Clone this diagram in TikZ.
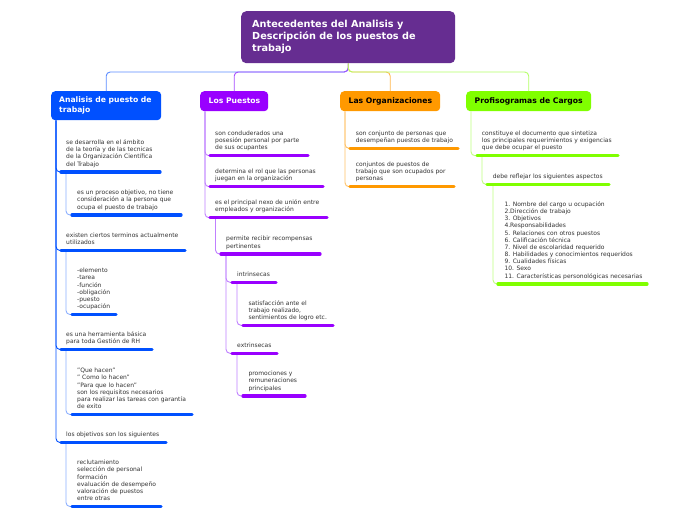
\documentclass[tikz,border=0pt]{standalone}
\usepackage{fontspec}
\setmainfont{DejaVu Sans}
\newcommand{\ml}[1]{\begin{tabular}[t]{@{}l@{}}#1\end{tabular}}
\definecolor{rootc}{HTML}{662D91}
\definecolor{bluec}{HTML}{0050FF}
\definecolor{purc}{HTML}{9900FF}
\definecolor{orac}{HTML}{FF9900}
\definecolor{grec}{HTML}{80FF00}
\definecolor{txtc}{HTML}{333333}
\definecolor{bluecon}{HTML}{5C8DFF}
\definecolor{purcon}{HTML}{A64DFF}
\definecolor{oracon}{HTML}{FFB84D}
\definecolor{grecon}{HTML}{B3FF66}
\definecolor{bluel}{HTML}{8CB0FF}
\definecolor{purl}{HTML}{C080FF}
\definecolor{oral}{HTML}{FFC266}
\definecolor{grel}{HTML}{BFFF80}
\begin{document}
\begin{tikzpicture}[x=1pt,y=-1pt,
  txt/.style={anchor=base west, inner sep=0pt, text=txtc, font=\fontsize{6.0}{7.15}\selectfont},
  bar/.style={line width=3.3pt, line cap=round},
  conn/.style={line width=0.9pt, rounded corners=4pt},
  box/.style={anchor=north west, rounded corners=4pt, inner sep=0pt, font=\fontsize{7.65}{10}\bfseries\selectfont},
]
\useasboundingbox[fill=white] (0,0) rectangle (696,520);

% root
\node[box, rounded corners=5pt, fill=rootc, text=white, minimum width=214pt, minimum height=52pt,
  font=\fontsize{9.7}{12}\bfseries\selectfont] (root) at (241,11)
  {\makebox[192pt][l]{\raisebox{-1pt}{\ml{Antecedentes del Analisis y\\Descripción de los puestos de\\trabajo}}}};

% branch boxes
\node[box, fill=bluec, text=white, minimum width=110pt, minimum height=29pt] (ana) at (51,91)
  {\makebox[94pt][l]{\ml{Analisis de puesto de\\trabajo}}};
\node[box, fill=purc, text=white, minimum width=68pt, minimum height=20pt] (pue) at (200,91)
  {\makebox[51pt][l]{\ml{Los Puestos}}};
\node[box, fill=orac, text=black, minimum width=100pt, minimum height=20pt] (org) at (340,91)
  {\makebox[83pt][l]{\ml{Las Organizaciones}}};
\node[box, fill=grec, text=black, minimum width=125pt, minimum height=20pt] (pro) at (466,91)
  {\makebox[108pt][l]{\ml{Profisogramas de Cargos}}};

% root connectors
\coordinate (hy) at (0,72);
\draw[conn, bluecon] (root.south) |- (ana.north |- hy) -- (ana.north);
\draw[conn, purcon] (root.south) |- (pue.north |- hy) -- (pue.north);
\draw[conn, oracon] (root.south) |- (org.north |- hy) -- (org.north);
\draw[conn, grecon] (root.south) |- (pro.north |- hy) -- (pro.north);

% ---------- Analisis (blue)
\node[txt] (b1) at (66,144.55) {\ml{se desarrolla en el ámbito\\de la teoría y de las tecnicas\\de la Organización Científica\\del Trabajo}};
\coordinate (b1s) at (61,172); \coordinate (b1e) at (160,172);
\node[txt] (b1a) at (77,194.7) {\ml{es un proceso objetivo, no tiene\\consideración a la persona que\\ocupa el puesto de trabajo}};
\coordinate (b1as) at (72,215); \coordinate (b1ae) at (181,215);
\node[txt] (b2) at (66,237.35) {\ml{existen ciertos terminos actualmente\\utilizados}};
\coordinate (b2s) at (61,250.5); \coordinate (b2e) at (185,250.5);
\node[txt] (b2a) at (77,272.75) {\ml{-elemento\\-tarea\\-función\\-obligación\\-puesto\\-ocupación}};
\coordinate (b2as) at (72,314.5); \coordinate (b2ae) at (116,314.5);
\node[txt] (b3) at (66,336.35) {\ml{es una herramienta básica\\para toda Gestión de RH}};
\coordinate (b3s) at (61,349.5); \coordinate (b3e) at (152,349.5);
\node[txt] (b3a) at (77,372.75) {\ml{"Que hacen"\\" Como lo hacen"\\"Para que lo hacen"\\son los requisitos necesarios\\para realizar las tareas con garantía\\de exito}};
\coordinate (b3as) at (72,414.5); \coordinate (b3ae) at (192,414.5);
\node[txt] (b4) at (66,436.5) {los objetivos son los siguientes};
\coordinate (b4s) at (61,442.5); \coordinate (b4e) at (166,442.5);
\node[txt] (b4a) at (77,464.75) {\ml{reclutamiento\\selección de personal\\formación\\evaluación de desempeño\\valoración de puestos\\entre otras}};
\coordinate (b4as) at (72,506.5); \coordinate (b4ae) at (161,506.5);

\foreach \c in {b1s,b2s,b3s,b4s}
  \draw[conn, bluec] ([xshift=5pt]ana.south west) |- (\c);
\draw[conn, bluel] ([xshift=5pt]b1s) |- (b1as);
\draw[conn, bluel] ([xshift=5pt]b2s) |- (b2as);
\draw[conn, bluel] ([xshift=5pt]b3s) |- (b3as);
\draw[conn, bluel] ([xshift=5pt]b4s) |- (b4as);
\foreach \s/\e in {b1s/b1e,b1as/b1ae,b2s/b2e,b2as/b2ae,b3s/b3e,b3as/b3ae,b4s/b4e,b4as/b4ae}
  \draw[bar, bluec] (\s) -- (\e);

% ---------- Los Puestos (purple)
\node[txt] (p1) at (215,135.4) {\ml{son conduderados una\\posesión personal por parte\\de sus ocupantes}};
\coordinate (p1s) at (210,155.7); \coordinate (p1e) at (308,155.7);
\node[txt] (p2) at (215,173.55) {\ml{determina el rol que las personas\\juegan en la organización}};
\coordinate (p2s) at (210,186.7); \coordinate (p2e) at (323,186.7);
\node[txt] (p3) at (215,204.55) {\ml{es el principal nexo de unión entre\\empleados y organización}};
\coordinate (p3s) at (210,217.7); \coordinate (p3e) at (327,217.7);
\node[txt] (p3a) at (226,240.85) {\ml{permite recibir recompensas\\pertinentes}};
\coordinate (p3as) at (221,254); \coordinate (p3ae) at (320,254);
\node[txt] (p3b) at (237,276.3) {intrinsecas};
\coordinate (p3bs) at (232,282.3); \coordinate (p3be) at (276,282.3);
\node[txt] (p3ba) at (248.3,305) {\ml{satisfacción ante el\\trabajo realizado,\\sentimientos de logro etc.}};
\coordinate (p3bas) at (243,325.3); \coordinate (p3bae) at (333,325.3);
\node[txt] (p3c) at (237,347.3) {extrinsecas};
\coordinate (p3cs) at (232,353.3); \coordinate (p3ce) at (277,353.3);
\node[txt] (p3ca) at (248.3,375.7) {\ml{promociones y\\remuneraciones\\principales}};
\coordinate (p3cas) at (243,396); \coordinate (p3cae) at (305,396);

\foreach \c in {p1s,p2s,p3s}
  \draw[conn, purl] ([xshift=5pt]pue.south west) |- (\c);
\draw[conn, purl] ([xshift=5.5pt]p3s) |- (p3as);
\draw[conn, purl] ([xshift=5pt]p3as) |- (p3bs);
\draw[conn, purl] ([xshift=5pt]p3as) |- (p3cs);
\draw[conn, purl] ([xshift=5pt]p3bs) |- (p3bas);
\draw[conn, purl] ([xshift=5pt]p3cs) |- (p3cas);
\foreach \s/\e in {p1s/p1e,p2s/p2e,p3s/p3e,p3as/p3ae,p3bs/p3be,p3bas/p3bae,p3cs/p3ce,p3cas/p3cae}
  \draw[bar, purc] (\s) -- (\e);

% ---------- Las Organizaciones (orange)
\node[txt] (o1) at (355.7,135.15) {\ml{son conjunto de personas que\\desempeñan puestos de trabajo}};
\coordinate (o1s) at (350,148.3); \coordinate (o1e) at (458,148.3);
\node[txt] (o2) at (355.7,166.4) {\ml{conjuntos de puestos de\\trabajo que son ocupados por\\personas}};
\coordinate (o2s) at (350,186.7); \coordinate (o2e) at (454,186.7);
\foreach \c in {o1s,o2s}
  \draw[conn, oral] ([xshift=5pt]org.south west) |- (\c);
\draw[bar, orac] (o1s) -- (o1e);
\draw[bar, orac] (o2s) -- (o2e);

% ---------- Profisogramas (green)
\node[txt] (g1) at (481.7,135.4) {\ml{constituye el documento que sintetiza\\los principales requerimientos y exigencias\\que debe ocupar el puesto}};
\coordinate (g1s) at (477,155.7); \coordinate (g1e) at (618,155.7);
\node[txt] (g1a) at (492.7,178.3) {debe reflejar los siguientes aspectos};
\coordinate (g1as) at (487,184.3); \coordinate (g1ae) at (609,184.3);
\node[txt] (g1b) at (504.3,206.5) {\ml{1. Nombre del cargo u ocupación\\2.Dirección de trabajo\\3. Objetivos\\4.Responsabilidades\\5. Relaciones con otros puestos\\6. Calificación técnica\\7. Nivel de escolaridad requerido\\8. Habilidades y conocimientos requeridos\\9. Cualidades físicas\\10. Sexo\\11. Características personológicas necesarias}};
\coordinate (g1bs) at (498,284); \coordinate (g1be) at (647,284);
\draw[conn, grel] ([xshift=5pt]pro.south west) |- (g1s);
\draw[conn, grel] ([xshift=5pt]g1s) |- (g1as);
\draw[conn, grel] ([xshift=6pt]g1as) |- (g1bs);
\draw[bar, grec] (g1s) -- (g1e);
\draw[bar, grec] (g1as) -- (g1ae);
\draw[bar, grec] (g1bs) -- (g1be);
\end{tikzpicture}
\end{document}
